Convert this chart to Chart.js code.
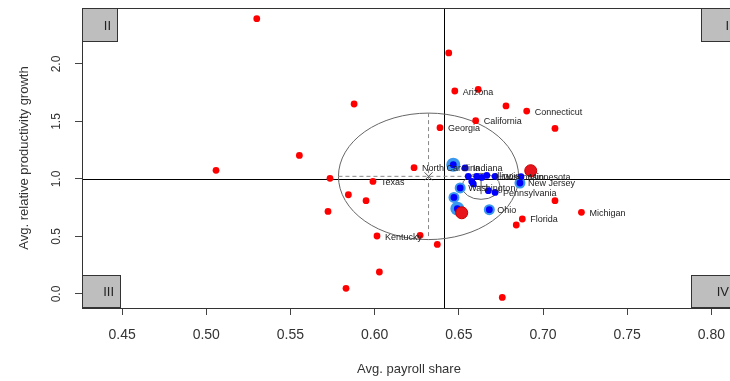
<!DOCTYPE html>
<html>
<head>
<meta charset="utf-8">
<script src="https://cdn.jsdelivr.net/npm/chart.js@4/dist/chart.umd.min.js"></script>
<style>
  html, body { margin: 0; padding: 0; background: #fff; overflow: hidden; width: 730px; height: 381px; }
  #wrap { width: 745px; height: 381px; }
</style>
</head>
<body>
<div id="wrap"><canvas id="chart" width="745" height="381"></canvas></div>
<script>
// axis ranges and ticks
const xMin = 0.4262, xMax = 0.8146;
const yMin = -0.122, yMax = 2.487;
const xTicks = [0.45, 0.50, 0.55, 0.60, 0.65, 0.70, 0.75, 0.80];
const yTicks = [0.0, 0.5, 1.0, 1.5, 2.0];

// quadrant split
const splitX = 0.6414;
const splitY = 1.0;

// states (red)
const redX = [0.530, 0.644, 0.6476, 0.6615, 0.5878, 0.678, 0.6903, 0.660, 0.7071, 0.6388,
  0.5553, 0.5058, 0.6234, 0.5735, 0.599, 0.5844, 0.5949, 0.5723, 0.6014, 0.627,
  0.6372, 0.6028, 0.583, 0.7071, 0.7228, 0.6877, 0.6841, 0.6758];
const redY = [2.394, 2.096, 1.765, 1.779, 1.652, 1.635, 1.591, 1.507, 1.44, 1.446,
  1.205, 1.075, 1.098, 1.006, 0.979, 0.863, 0.811, 0.718, 0.504, 0.510,
  0.431, 0.191, 0.049, 0.811, 0.710, 0.652, 0.600, -0.03];

// group means (big red)
const bigRedX = [0.6927, 0.6517];
const bigRedY = [1.072, 0.706];

// blue states
const blueX = [0.6467, 0.6537, 0.6556, 0.6606, 0.6636, 0.6666, 0.6715, 0.6863, 0.6869,
  0.6577, 0.6586, 0.6508, 0.6675, 0.6715, 0.6471, 0.6491, 0.6681];
const blueY = [1.124, 1.096, 1.023, 1.023, 1.014, 1.031, 1.023, 0.965, 1.02,
  0.979, 0.957, 0.922, 0.898, 0.883, 0.84, 0.742, 0.733];

// light blue halos
const haloX = [0.6863, 0.6508, 0.6471, 0.6681];
const haloY = [0.965, 0.922, 0.84, 0.733];
const haloBigX = [0.6467, 0.6491];
const haloBigY = [1.124, 0.742];

// point labels
const labelNames = ['Arizona', 'Connecticut', 'California', 'Georgia', 'North Carolina', 'Texas',
  'Kentucky', 'Michigan', 'Florida', 'Ohio', 'Pennsylvania', 'Washington', 'Indiana',
  'Illinois', 'Wisconsin', 'Minnesota', 'New Jersey'];
const labelX = [0.6476, 0.6903, 0.660, 0.6388, 0.6234, 0.599,
  0.6014, 0.7228, 0.6877, 0.6681, 0.6715, 0.6508, 0.6537,
  0.6666, 0.6715, 0.6869, 0.6863];
const labelY = [1.765, 1.591, 1.507, 1.446, 1.098, 0.979,
  0.504, 0.710, 0.652, 0.733, 0.883, 0.922, 1.096,
  1.031, 1.023, 1.02, 0.965];

// confidence ellipses
const ellCX = [0.632, 0.6632];
const ellCY = [1.023, 0.936];
const ellRX = [0.0535, 0.0113];
const ellRY = [0.55, 0.113];

const FONT = "'Liberation Sans', Arial, sans-serif";
const pts = (xs, ys) => xs.map((x, i) => ({ x, y: ys[i] }));

const overlay = {
  id: 'overlay',
  beforeDatasetsDraw(chart) {
    const { ctx, chartArea: a, scales: { x, y } } = chart;
    ctx.save();
    ctx.beginPath();
    ctx.rect(a.left, a.top, a.right - a.left, a.bottom - a.top);
    ctx.clip();

    // quadrant lines
    ctx.strokeStyle = '#000';
    ctx.lineWidth = 1;
    const sx = Math.round(x.getPixelForValue(splitX)) + 0.5;
    const sy = Math.round(y.getPixelForValue(splitY)) + 0.5;
    ctx.beginPath();
    ctx.moveTo(sx, a.top); ctx.lineTo(sx, a.bottom);
    ctx.moveTo(a.left, sy); ctx.lineTo(a.right, sy);
    ctx.stroke();

    // ellipses
    ellCX.forEach((cx, i) => {
      const px = x.getPixelForValue(cx);
      const py = y.getPixelForValue(ellCY[i]);
      const rx = x.getPixelForValue(cx + ellRX[i]) - px;
      const ry = py - y.getPixelForValue(ellCY[i] + ellRY[i]);
      ctx.strokeStyle = '#666';
      ctx.setLineDash([]);
      ctx.beginPath();
      ctx.ellipse(px, py, rx, ry, 0, 0, Math.PI * 2);
      ctx.stroke();
      if (i === 0) {
        ctx.strokeStyle = '#888';
        ctx.setLineDash([4, 3]);
        ctx.beginPath();
        ctx.moveTo(px - rx, py); ctx.lineTo(px + rx, py);
        ctx.moveTo(px, py - ry); ctx.lineTo(px, py + ry);
        ctx.stroke();
        ctx.setLineDash([]);
        ctx.strokeStyle = '#555';
        ctx.beginPath();
        ctx.moveTo(px - 4, py - 4); ctx.lineTo(px + 4, py + 4);
        ctx.moveTo(px - 4, py + 4); ctx.lineTo(px + 4, py - 4);
        ctx.stroke();
      } else {
        ctx.strokeStyle = '#555';
        ctx.beginPath();
        ctx.moveTo(px - rx * 0.35, py); ctx.lineTo(px + rx * 0.35, py);
        ctx.moveTo(px, py - ry * 0.55); ctx.lineTo(px, py + ry * 0.6);
        ctx.stroke();
      }
    });
    ctx.restore();
  },
  afterDatasetsDraw(chart) {
    const { ctx, chartArea: a, scales: { x, y } } = chart;
    ctx.save();

    // point labels
    ctx.font = '9px ' + FONT;
    ctx.fillStyle = '#222';
    ctx.textAlign = 'left';
    ctx.textBaseline = 'middle';
    labelNames.forEach((name, i) => {
      ctx.fillText(name, x.getPixelForValue(labelX[i]) + 8, y.getPixelForValue(labelY[i]) + 1);
    });

    // quadrant boxes
    const boxes = [
      { t: 'I', x0: a.right - 35, y0: a.top, w: 35, h: 34 },
      { t: 'II', x0: a.left, y0: a.top, w: 36, h: 34 },
      { t: 'III', x0: a.left, y0: a.bottom - 33, w: 39, h: 33 },
      { t: 'IV', x0: a.right - 45, y0: a.bottom - 33, w: 45, h: 33 },
    ];
    ctx.font = '13px ' + FONT;
    ctx.textAlign = 'right';
    boxes.forEach((b) => {
      ctx.fillStyle = '#bebebe';
      ctx.fillRect(b.x0, b.y0, b.w, b.h);
      ctx.strokeStyle = '#333';
      ctx.strokeRect(b.x0 + 0.5, b.y0 + 0.5, b.w - 1, b.h - 1);
      ctx.fillStyle = '#222';
      ctx.fillText(b.t, b.x0 + b.w - 7, b.y0 + b.h / 2 + 1);
    });

    // plot box
    ctx.strokeStyle = '#333';
    ctx.strokeRect(a.left + 0.5, a.top + 0.5, a.right - a.left - 1, a.bottom - a.top);

    // y tick labels (rotated like R)
    ctx.font = '12px ' + FONT;
    ctx.fillStyle = '#333';
    ctx.textAlign = 'center';
    yTicks.forEach((v) => {
      ctx.save();
      ctx.translate(57, y.getPixelForValue(v));
      ctx.rotate(-Math.PI / 2);
      ctx.fillText(v.toFixed(1), 0, 0);
      ctx.restore();
    });
    ctx.restore();
  },
};

new Chart(document.getElementById('chart'), {
  type: 'scatter',
  data: {
    datasets: [
      { data: pts(haloBigX, haloBigY), pointRadius: 7, backgroundColor: '#3a98ee', borderWidth: 0, order: 6 },
      { data: pts(haloX, haloY), pointRadius: 5.5, backgroundColor: '#3a98ee', borderWidth: 0, order: 5 },
      { data: pts(blueX, blueY), pointRadius: 3.4, backgroundColor: '#0000ff', borderWidth: 0, order: 4 },
      { data: pts(redX, redY), pointRadius: 3.4, backgroundColor: '#ff0000', borderWidth: 0, order: 3 },
      { data: pts(bigRedX, bigRedY), pointRadius: 6, backgroundColor: '#e8141c', borderColor: '#c80000', borderWidth: 1, order: 2 },
    ],
  },
  options: {
    responsive: false,
    animation: false,
    events: [],
    layout: { padding: { top: 8, right: 9, left: 0, bottom: 0 } },
    plugins: { legend: { display: false }, tooltip: { enabled: false } },
    scales: {
      x: {
        type: 'linear',
        min: xMin,
        max: xMax,
        afterBuildTicks: (s) => { s.ticks = xTicks.map((v) => ({ value: v })); },
        afterFit: (s) => { s.height = 73; },
        border: { display: false },
        grid: { drawOnChartArea: false, drawTicks: true, tickLength: 7, color: '#444' },
        ticks: { font: { size: 14, family: FONT }, color: '#333', padding: 12, maxRotation: 0, autoSkip: false,
          callback: (v) => Number(v).toFixed(2) },
        title: { display: true, text: 'Avg. payroll share', font: { size: 13, family: FONT }, color: '#333',
          padding: { top: 0, bottom: 4 } },
      },
      y: {
        type: 'linear',
        min: yMin,
        max: yMax,
        afterBuildTicks: (s) => { s.ticks = yTicks.map((v) => ({ value: v })); },
        afterFit: (s) => { s.width = 82; },
        border: { display: false },
        grid: { drawOnChartArea: false, drawTicks: true, tickLength: 7, color: '#444' },
        ticks: { display: false },
        title: { display: true, text: 'Avg. relative productivity growth', font: { size: 13, family: FONT }, color: '#333',
          padding: { top: 17, bottom: 0 } },
      },
    },
  },
  plugins: [overlay],
});
</script>
</body>
</html>
